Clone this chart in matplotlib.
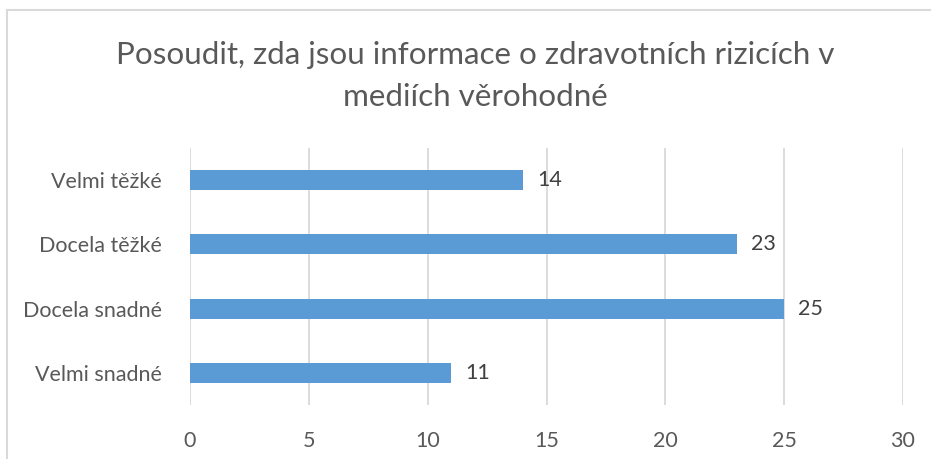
import matplotlib
matplotlib.use("Agg")
import matplotlib.pyplot as plt
from matplotlib.lines import Line2D

categories = ["Velmi snadné", "Docela snadné", "Docela těžké", "Velmi těžké"]
values = [11, 25, 23, 14]
xticks = [0, 5, 10, 15, 20, 25, 30]
title = "Posoudit, zda jsou informace o zdravotních rizicích v\nmediích věrohodné"

plt.rcParams['font.family'] = ['Lato', 'DejaVu Sans']

fig = plt.figure(figsize=(9.31, 4.59), dpi=100)
ax = fig.add_axes([190/931, 1-405/459, (903-190)/931, (405-148)/459])

y = list(range(len(categories)))
ax.barh(y, values, height=0.31, color="#5B9BD5", zorder=3)
for yi, v in zip(y, values):
    ax.text(v + 0.6, yi, str(v), va="center", ha="left", fontsize=15.5, color="#404040")

ax.set_xlim(0, 30)
ax.set_ylim(-0.5, len(categories) - 0.5)
ax.set_xticks(xticks)
ax.set_xticklabels([str(t) for t in xticks])
ax.set_yticks(y)
ax.set_yticklabels(categories)
ax.tick_params(axis="both", length=0, labelsize=15.5, colors="#595959")
ax.tick_params(axis="x", pad=19)
ax.tick_params(axis="y", pad=20)
ax.grid(axis="x", color="#d9d9d9", linewidth=1.3, zorder=0)
for s in ax.spines.values():
    s.set_visible(False)

fig.text(475/931, 1-76/459, title, ha="center", va="center", fontsize=22.6,
         color="#595959", linespacing=1.62)

# chart border
fig.add_artist(Line2D([7/931, 1], [1-10/459, 1-10/459], color="#d9d9d9", lw=1.5))
fig.add_artist(Line2D([7/931, 7/931], [0, 1-10/459], color="#d9d9d9", lw=1.5))

fig.savefig("out.png", dpi=100)
